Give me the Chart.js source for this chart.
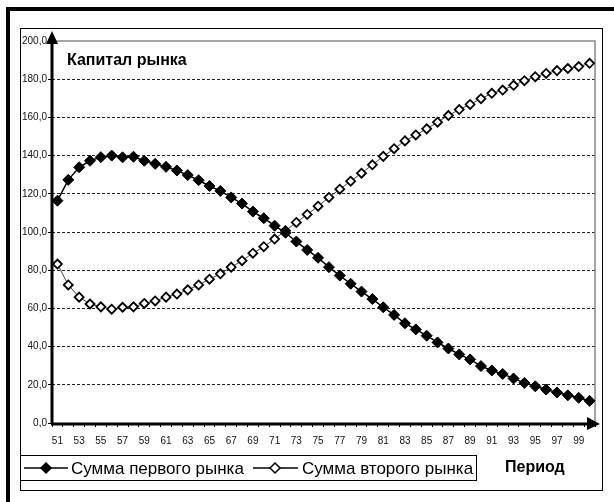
<!DOCTYPE html>
<html>
<head>
<meta charset="utf-8">
<script src="https://cdn.jsdelivr.net/npm/chart.js@4/dist/chart.umd.min.js"></script>
<style>
  html, body { margin: 0; padding: 0; background: #fff; }
  #wrap { width: 614px; height: 502px; }
</style>
</head>
<body>
<div id="wrap"><canvas id="myChart" width="614" height="502"></canvas></div>
<script>
// Периоды (ось X)
const periods = [];
for (let p = 51; p <= 100; p++) periods.push(String(p));

// Сумма первого рынка
const firstMarket = [
    116.4, 127.3, 133.9, 137.3, 139.2, 140.0, 139.1, 139.4, 137.3, 135.7,
    134.1, 132.2, 129.8, 127.1, 124.1, 121.5, 118.1, 114.9, 110.7, 107.2,
    103.3, 99.6, 95.0, 90.6, 86.5, 81.6, 77.2, 72.9, 68.8, 64.9,
    60.6, 56.6, 52.2, 49.0, 45.7, 42.2, 39.0, 35.9, 33.3, 29.8,
    27.5, 25.7, 23.3, 21.0, 19.2, 17.5, 16.0, 14.5, 13.2, 11.6
];

// Сумма второго рынка
const secondMarket = [
    83.2, 72.3, 65.9, 62.3, 60.8, 59.6, 60.6, 60.8, 62.6, 63.9,
    65.9, 67.5, 69.7, 72.3, 75.3, 78.1, 81.6, 85.0, 88.9, 92.3,
    96.3, 100.7, 105.0, 109.2, 113.5, 118.1, 122.4, 126.6, 130.8, 135.2,
    139.6, 143.6, 147.7, 150.8, 154.0, 157.5, 161.0, 164.1, 166.8, 169.8,
    172.6, 174.3, 176.8, 179.2, 181.3, 183.0, 184.5, 185.6, 186.6, 188.3
];

const seriesNames = ['Сумма первого рынка', 'Сумма второго рынка'];
const yTitle = 'Капитал рынка';
const xTitle = 'Период';

const FONT = "Arial, 'Liberation Sans', sans-serif";

// рамки, стрелки осей, подписи и легенда
const decor = {
    id: 'decor',
    beforeDraw(chart) {
        const ctx = chart.ctx;
        ctx.save();
        ctx.fillStyle = '#fff';
        ctx.fillRect(0, 0, chart.width, chart.height);
        ctx.restore();
    },
    beforeDatasetsDraw(chart) {
        const ctx = chart.ctx;
        const a = chart.chartArea;
        ctx.save();
        // серая рамка области построения
        ctx.strokeStyle = '#888';
        ctx.lineWidth = 1.5;
        ctx.beginPath();
        ctx.moveTo(a.left, a.top);
        ctx.lineTo(a.right, a.top);
        ctx.lineTo(a.right, a.bottom);
        ctx.stroke();

        // оси со стрелками
        ctx.strokeStyle = '#000';
        ctx.fillStyle = '#000';
        ctx.lineWidth = 3;
        ctx.beginPath();
        ctx.moveTo(a.left, a.bottom + 1);
        ctx.lineTo(a.left, a.top + 2);
        ctx.moveTo(a.left - 1, a.bottom + 1);
        ctx.lineTo(a.right - 8, a.bottom + 1);
        ctx.stroke();
        ctx.beginPath();
        ctx.moveTo(a.left, a.top - 10);
        ctx.lineTo(a.left - 6, a.top + 3);
        ctx.lineTo(a.left + 6, a.top + 3);
        ctx.closePath();
        ctx.fill();
        ctx.beginPath();
        ctx.moveTo(a.right + 5, a.bottom + 1);
        ctx.lineTo(a.right - 8, a.bottom - 6);
        ctx.lineTo(a.right - 8, a.bottom + 7);
        ctx.closePath();
        ctx.fill();
        ctx.restore();
    },
    afterDraw(chart) {
        const ctx = chart.ctx;
        ctx.save();
        // внешняя толстая рамка (слева и сверху)
        ctx.fillStyle = '#000';
        ctx.fillRect(6, 7, 4, 495);
        ctx.fillRect(6, 7, 608, 4);
        // внутренняя рамка
        ctx.strokeStyle = '#000';
        ctx.lineWidth = 1;
        ctx.strokeRect(20.5, 28.5, 582, 462);

        // подписи осей
        ctx.fillStyle = '#000';
        ctx.font = 'bold 16px ' + FONT;
        ctx.textBaseline = 'middle';
        ctx.textAlign = 'left';
        ctx.fillText(yTitle, 67, 61);
        ctx.fillText(xTitle, 505, 468);

        // легенда
        ctx.strokeRect(20.5, 455.5, 456, 25);
        const cy = 468;
        const items = [
            { x0: 24, x1: 68, mx: 46, tx: 71, fill: '#000' },
            { x0: 253, x1: 298, mx: 275, tx: 302, fill: '#fff' }
        ];
        items.forEach((it, i) => {
            ctx.strokeStyle = '#000';
            ctx.lineWidth = 1.5;
            ctx.beginPath();
            ctx.moveTo(it.x0, cy);
            ctx.lineTo(it.x1, cy);
            ctx.stroke();
            ctx.beginPath();
            ctx.moveTo(it.mx, cy - 5);
            ctx.lineTo(it.mx + 5, cy);
            ctx.lineTo(it.mx, cy + 5);
            ctx.lineTo(it.mx - 5, cy);
            ctx.closePath();
            ctx.fillStyle = it.fill;
            ctx.fill();
            ctx.stroke();
            ctx.fillStyle = '#000';
            ctx.font = '17px ' + FONT;
            ctx.fillText(seriesNames[i], it.tx, cy + 1);
        });
        ctx.restore();
    }
};

function crearGrafica() {
    const ctx = document.getElementById('myChart').getContext('2d');
    new Chart(ctx, {
        type: 'line',
        data: {
            labels: periods,
            datasets: [
                {
                    label: seriesNames[0],
                    data: firstMarket,
                    borderColor: '#000',
                    borderWidth: 1.5,
                    pointStyle: 'rectRot',
                    pointRadius: 5.5,
                    pointBackgroundColor: '#000',
                    pointBorderColor: '#000',
                    pointBorderWidth: 1,
                    tension: 0
                },
                {
                    label: seriesNames[1],
                    data: secondMarket,
                    borderColor: '#444',
                    borderWidth: 1,
                    pointStyle: 'rectRot',
                    pointRadius: 4.5,
                    pointBackgroundColor: '#fff',
                    pointBorderColor: '#000',
                    pointBorderWidth: 1.8,
                    tension: 0
                }
            ]
        },
        options: {
            responsive: false,
            animation: false,
            devicePixelRatio: 1,
            layout: {
                padding: { left: 0, top: 41, right: 19, bottom: 49 }
            },
            plugins: {
                legend: { display: false },
                title: { display: false },
                tooltip: { enabled: false }
            },
            scales: {
                x: {
                    offset: true,
                    afterFit: s => { s.height = 30; },
                    border: { display: false },
                    grid: {
                        offset: true,
                        drawOnChartArea: false,
                        drawTicks: true,
                        tickLength: 4,
                        tickColor: '#000'
                    },
                    ticks: {
                        autoSkip: false,
                        maxRotation: 0,
                        padding: 8,
                        color: '#111',
                        font: { family: FONT, size: 10 },
                        callback: (v, i) => (i % 2 === 0 ? periods[i] : '')
                    }
                },
                y: {
                    min: 0,
                    max: 200,
                    afterFit: s => { s.width = 52; },
                    border: { display: false, dash: [3, 2] },
                    grid: {
                        color: c => (c.tick && (c.tick.value === 0 || c.tick.value === 200)) ? 'rgba(0,0,0,0)' : '#222',
                        lineWidth: 1,
                        drawTicks: true,
                        tickLength: 4,
                        tickColor: '#000',
                        tickBorderDash: []
                    },
                    ticks: {
                        stepSize: 20,
                        padding: 1,
                        color: '#111',
                        font: { family: FONT, size: 10 },
                        callback: v => v.toFixed(1).replace('.', ',')
                    }
                }
            }
        },
        plugins: [decor]
    });
}

document.addEventListener('DOMContentLoaded', function() {
    crearGrafica();
});
</script>
</body>
</html>
